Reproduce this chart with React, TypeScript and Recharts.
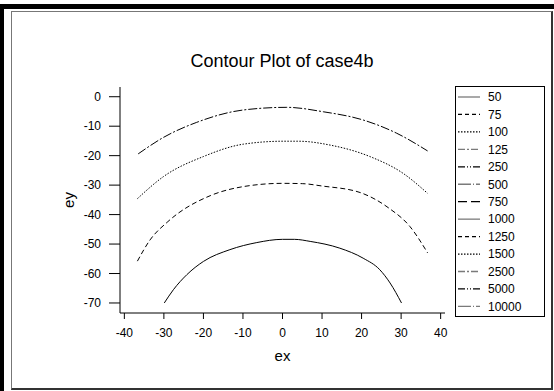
import React from "react";
import { LineChart, Line, XAxis, YAxis, Legend } from "recharts";

const contour50 = [
  { ex: -29.9, ey: -70 }, { ex: -27.6, ey: -65.5 }, { ex: -24.2, ey: -60.4 }, { ex: -20, ey: -55.9 },
  { ex: -13.3, ey: -51.9 }, { ex: -6.5, ey: -49.5 }, { ex: 0, ey: -48.4 }, { ex: 3, ey: -48.4 },
  { ex: 7, ey: -49.1 }, { ex: 14.5, ey: -51.4 }, { ex: 20.4, ey: -54.8 }, { ex: 24.6, ey: -58.7 },
  { ex: 27.2, ey: -63.2 }, { ex: 30.1, ey: -70 },
];
const contour75 = [
  { ex: -36.7, ey: -55.8 }, { ex: -33.5, ey: -48.6 }, { ex: -29, ey: -42.4 }, { ex: -18.3, ey: -33.6 },
  { ex: -9.9, ey: -30.5 }, { ex: 0, ey: -29.4 }, { ex: 5, ey: -29.5 }, { ex: 10, ey: -30.3 },
  { ex: 19.6, ey: -32.5 }, { ex: 26.9, ey: -37.8 }, { ex: 32.2, ey: -44 }, { ex: 36.7, ey: -53 },
];
const contour100 = [
  { ex: -36.7, ey: -34.6 }, { ex: -30.1, ey: -27.1 }, { ex: -20, ey: -20.3 }, { ex: -9.9, ey: -16.1 },
  { ex: 0.2, ey: -15.1 }, { ex: 4, ey: -15.1 }, { ex: 12, ey: -16.4 }, { ex: 22.1, ey: -20.3 },
  { ex: 30.5, ey: -26 }, { ex: 36.7, ey: -32.8 },
];
const contour125 = [
  { ex: -36.5, ey: -19.4 }, { ex: -30.1, ey: -13.8 }, { ex: -21.7, ey: -8.7 }, { ex: -9.9, ey: -4.5 },
  { ex: 1.1, ey: -3.6 }, { ex: 10.3, ey: -5.1 }, { ex: 20.4, ey: -7.9 }, { ex: 28.9, ey: -12.4 },
  { ex: 36.7, ey: -18.4 },
];

const xTicks = [-40, -30, -20, -10, 0, 10, 20, 30, 40];
const yTicks = [0, -10, -20, -30, -40, -50, -60, -70];
const legendLabels = ["50", "75", "100", "125", "250", "500", "750", "1000", "1250", "1500", "2500", "5000", "10000"];
const legendDash = ["", "4 3", "1.5 1.5", "7 2 2 2", "7 2 1 2 1 2", "13 2 1 2", "9 4", "", "4 3", "1.5 1.5", "7 2 2 2", "7 2 1 2 1 2", "13 2 1 2"];
const legendColor = ["#7a7a7a", "#000", "#000", "#7a7a7a", "#000", "#7a7a7a", "#000", "#7a7a7a", "#000", "#000", "#7a7a7a", "#000", "#7a7a7a"];

const FONT = "'Liberation Sans', Arial, sans-serif";

const LegendBox = () => (
  <svg width={91} height={232} style={{ display: "block", fontFamily: FONT }}>
    <rect x={0.5} y={0.5} width={89} height={230} fill="#fff" stroke="#000" />
    {legendLabels.map((lab, i) => {
      const y = 11 + i * 17.45;
      return (
        <g key={lab}>
          <line x1={3} x2={25} y1={y} y2={y} stroke={legendColor[i]} strokeWidth={1.3} strokeDasharray={legendDash[i] || undefined} />
          <text x={33} y={y + 4.3} fontSize={12} fill="#000">{lab}</text>
        </g>
      );
    })}
  </svg>
);

export default function App() {
  return (
    <div style={{ position: "absolute", left: 0, top: 0, width: 554, height: 391, background: "#fff", overflow: "hidden", fontFamily: FONT }}>
      <div style={{ position: "absolute", left: 0, top: 4, width: 554, height: 5, background: "#000" }} />
      <div style={{ position: "absolute", left: 0, top: 4, width: 4, height: 387, background: "#000" }} />
      <div style={{ position: "absolute", left: 11, top: 11, width: 539, height: 376, borderLeft: "1px solid #777", borderTop: "1px solid #777", borderRight: "2px solid #333", borderBottom: "2px solid #333" }} />
      <div style={{ position: "absolute", left: 132, top: 52, width: 300, textAlign: "center", fontSize: 18, lineHeight: "18px", color: "#000" }}>
        Contour Plot of case4b
      </div>
      <LineChart width={554} height={391} margin={{ top: 87, right: 109, bottom: 28, left: 0 }} style={{ position: "absolute", left: 0, top: 0 }}>
        <XAxis
          dataKey="ex" type="number" domain={[-41.1, 41.1]} ticks={xTicks} allowDataOverflow
          height={50} tickSize={6} tickMargin={9} stroke="#000"
          tick={{ fill: "#000", fontSize: 12, fontFamily: FONT }}
          label={(p: any) => (
            <text x={p.viewBox.x + p.viewBox.width / 2} y={p.viewBox.y + 48} textAnchor="middle" fontSize={15} fontFamily={FONT} fill="#000">ex</text>
          )}
        />
        <XAxis xAxisId="top" orientation="top" type="number" domain={[-41.1, 41.1]} allowDataOverflow height={0} tick={false} tickLine={false} stroke="#000" />
        <YAxis
          type="number" domain={[-73.4, 3.3]} ticks={yTicks} allowDataOverflow
          width={120} tickSize={11} tickMargin={8} stroke="#000"
          tick={{ fill: "#000", fontSize: 12, fontFamily: FONT }}
          label={(p: any) => (
            <text x={74} y={p.viewBox.y + p.viewBox.height / 2} textAnchor="middle" fontSize={15} fontFamily={FONT} fill="#000" transform={`rotate(-90, 74, ${p.viewBox.y + p.viewBox.height / 2})`}>ey</text>
          )}
        />
        <YAxis yAxisId="right" orientation="right" type="number" domain={[-73.4, 3.3]} allowDataOverflow width={0} tick={false} tickLine={false} stroke="#000" />
        <Legend
          layout="vertical" align="center" verticalAlign="middle"
          content={() => <LegendBox />}
          wrapperStyle={{ left: 455, top: 86, width: 91, height: 232 }}
        />
        <Line data={contour50} dataKey="ey" type="monotone" stroke="#000" strokeWidth={1} dot={false} activeDot={false} isAnimationActive={false} />
        <Line data={contour75} dataKey="ey" type="monotone" stroke="#000" strokeWidth={1} strokeDasharray="5 3" dot={false} activeDot={false} isAnimationActive={false} />
        <Line data={contour100} dataKey="ey" type="monotone" stroke="#000" strokeWidth={1} strokeDasharray="1.5 1.5" dot={false} activeDot={false} isAnimationActive={false} />
        <Line data={contour125} dataKey="ey" type="monotone" stroke="#000" strokeWidth={1} strokeDasharray="9 2 2 2" dot={false} activeDot={false} isAnimationActive={false} />
      </LineChart>
    </div>
  );
}
